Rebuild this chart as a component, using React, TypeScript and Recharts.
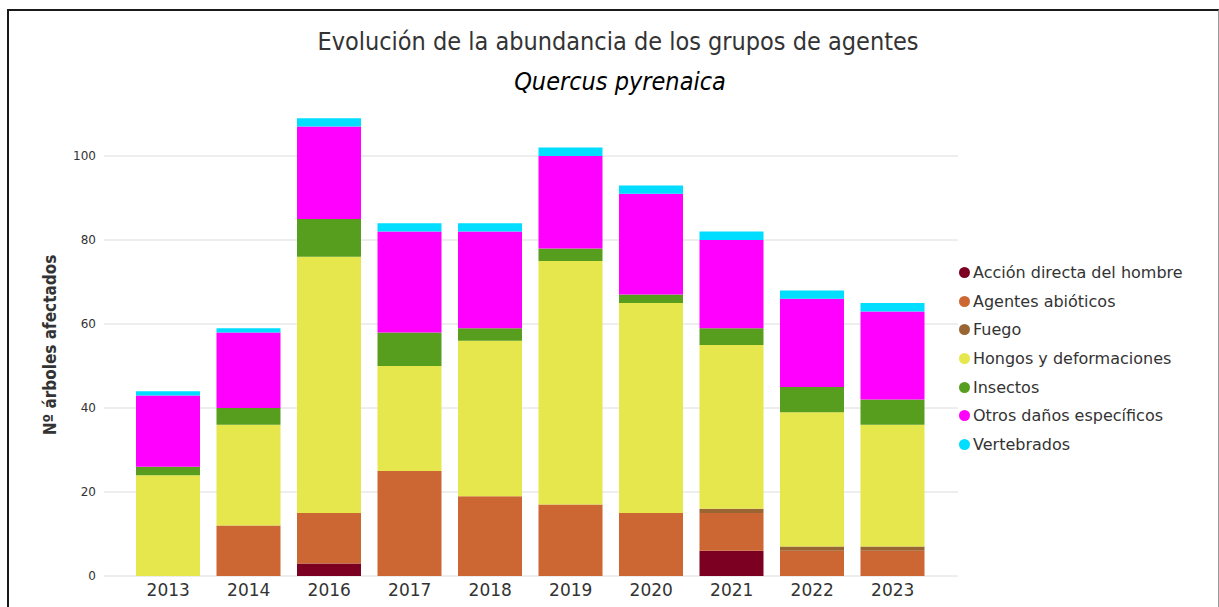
import { BarChart, Bar, XAxis, YAxis, CartesianGrid, Legend } from "recharts"

const years = ["2013", "2014", "2016", "2017", "2018", "2019", "2020", "2021", "2022", "2023"]

const accion = [0, 0, 3, 0, 0, 0, 0, 6, 0, 0]
const abioticos = [0, 12, 12, 25, 19, 17, 15, 9, 6, 6]
const fuego = [0, 0, 0, 0, 0, 0, 0, 1, 1, 1]
const hongos = [24, 24, 61, 25, 37, 58, 50, 39, 32, 29]
const insectos = [2, 4, 9, 8, 3, 3, 2, 4, 6, 6]
const otros = [17, 18, 22, 24, 23, 22, 24, 21, 21, 21]
const vertebrados = [1, 1, 2, 2, 2, 2, 2, 2, 2, 2]

const yTicks = [0, 20, 40, 60, 80, 100]

const series = [
  { key: "accion", name: "Acción directa del hombre", color: "#7b0021", values: accion },
  { key: "abioticos", name: "Agentes abióticos", color: "#cc6633", values: abioticos },
  { key: "fuego", name: "Fuego", color: "#996633", values: fuego },
  { key: "hongos", name: "Hongos y deformaciones", color: "#e6e64d", values: hongos },
  { key: "insectos", name: "Insectos", color: "#589e1e", values: insectos },
  { key: "otros", name: "Otros daños específicos", color: "#ff00ff", values: otros },
  { key: "vertebrados", name: "Vertebrados", color: "#00ddff", values: vertebrados },
]

const data = years.map((year, i) => {
  const row: Record<string, string | number> = { year }
  series.forEach((s) => {
    row[s.key] = s.values[i]
  })
  return row
})

const font = "'DejaVu Sans', Verdana, sans-serif"
const condensed = "'DejaVu Sans Condensed', 'DejaVu Sans', sans-serif"

function LegendList() {
  return (
    <div style={{ fontFamily: font, fontSize: 16, color: "#333" }}>
      {series.map((s) => (
        <div
          key={s.key}
          style={{ height: 28.7, display: "flex", alignItems: "center", whiteSpace: "nowrap" }}
        >
          <span
            style={{
              display: "inline-block",
              width: 11,
              height: 11,
              borderRadius: "50%",
              background: s.color,
              marginRight: 3,
            }}
          />
          {s.name}
        </div>
      ))}
    </div>
  )
}

export default function App() {
  return (
    <div style={{ position: "absolute", left: 0, top: 0, width: 1219, height: 607, background: "#fff", overflow: "hidden" }}>
      <div
        style={{
          position: "absolute",
          left: 7,
          top: 9,
          width: 1209,
          height: 620,
          borderTop: "2px solid #1a1a1a",
          borderLeft: "2px solid #1a1a1a",
          borderRight: "1px solid #999",
        }}
      />
      <div
        style={{
          position: "absolute",
          left: 0,
          width: 1236,
          top: 27,
          textAlign: "center",
          fontFamily: condensed,
          fontStretch: "condensed",
          fontSize: 25,
          color: "#333",
        }}
      >
        Evolución de la abundancia de los grupos de agentes
      </div>
      <div
        style={{
          position: "absolute",
          left: 0,
          width: 1240,
          top: 67,
          textAlign: "center",
          fontFamily: condensed,
          fontStretch: "condensed",
          fontStyle: "italic",
          fontSize: 25,
          color: "#000",
        }}
      >
        Quercus pyrenaica
      </div>
      <BarChart
        width={1219}
        height={607}
        data={data}
        margin={{ top: 114, right: 261, bottom: 0, left: 0 }}
        style={{ position: "absolute", left: 0, top: 0 }}
      >
        <CartesianGrid vertical={false} stroke="#dcdcdc" syncWithTicks />
        <XAxis
          dataKey="year"
          height={31}
          axisLine={false}
          tickLine={false}
          padding={{ left: 24, right: 25 }}
          tick={{ fontSize: 17, fill: "#333", fontFamily: font }}
          tickMargin={2}
        />
        <YAxis
          width={104}
          domain={[0, 110]}
          ticks={yTicks}
          axisLine={false}
          tickLine={false}
          tick={{ fontSize: 12, fill: "#333", fontFamily: font }}
          label={({ viewBox }: any) => (
            <text
              x={viewBox.x + 56}
              y={viewBox.y + viewBox.height / 2}
              transform={`rotate(-90 ${viewBox.x + 56} ${viewBox.y + viewBox.height / 2})`}
              textAnchor="middle"
              fontFamily={condensed}
              fontWeight="bold"
              fontSize={17}
              fill="#333"
            >
              Nº árboles afectados
            </text>
          )}
        />
        <Legend
          layout="vertical"
          align="center"
          verticalAlign="middle"
          content={() => <LegendList />}
          wrapperStyle={{ left: 959, top: 258, width: 260, height: 210 }}
        />
        {series.map((s) => (
          <Bar
            key={s.key}
            dataKey={s.key}
            name={s.name}
            stackId="a"
            fill={s.color}
            barSize={64}
            isAnimationActive={false}
          />
        ))}
      </BarChart>
    </div>
  )
}
